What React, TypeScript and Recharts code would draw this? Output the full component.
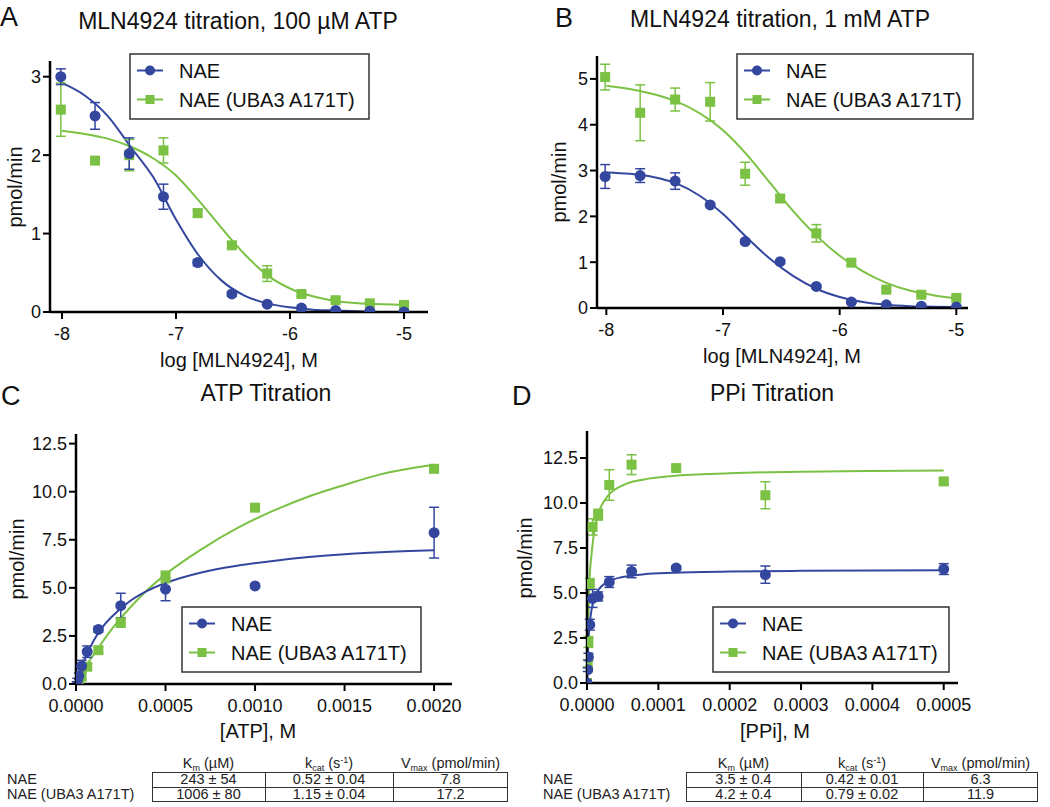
import React from "react"
import { ComposedChart, Line, Scatter, XAxis, YAxis, ErrorBar } from "recharts"

const BLUE = "#34479f"
const GREEN = "#7bc143"
const INK = "#111"
const FONT = '"Liberation Sans", Arial, Helvetica, sans-serif'

const seriesNames = ["NAE", "NAE (UBA3 A171T)"]

// MLN4924 doses, log M
const logDoses = [-8.01, -7.71, -7.41, -7.11, -6.81, -6.51, -6.2, -5.9, -5.6, -5.3, -5.0]
const logFitX = [-8.0, -7.8, -7.6, -7.4, -7.2, -7.0, -6.8, -6.6, -6.4, -6.2, -6.0, -5.8, -5.6, -5.4, -5.2, -5.0]

// A: 100 uM ATP
const aNae = [3.0, 2.5, 2.02, 1.47, 0.63, 0.23, 0.1, 0.05, 0.02, 0.01, 0.0]
const aNaeErr = [0.1, 0.17, 0.2, 0.16, 0.04, 0.03, 0.02, 0.01, 0, 0, 0]
const aMut = [2.58, 1.93, 2.0, 2.06, 1.26, 0.85, 0.49, 0.23, 0.15, 0.11, 0.09]
const aMutErr = [0.34, 0, 0.2, 0.16, 0.05, 0.04, 0.1, 0.03, 0.03, 0.02, 0.02]
const aNaeFit = [2.92, 2.76, 2.5, 2.11, 1.72, 1.18, 0.72, 0.4, 0.21, 0.11, 0.06, 0.03, 0.02, 0.01, 0.0, 0.0]
const aMutFit = [2.31, 2.27, 2.21, 2.11, 1.96, 1.74, 1.42, 1.07, 0.74, 0.47, 0.3, 0.2, 0.14, 0.11, 0.1, 0.09]

// B: 1 mM ATP
const bNae = [2.87, 2.89, 2.77, 2.25, 1.45, 1.01, 0.47, 0.13, 0.07, 0.04, 0.02]
const bNaeErr = [0.26, 0.15, 0.18, 0.03, 0.05, 0.04, 0.03, 0.02, 0, 0, 0]
const bMut = [5.04, 4.26, 4.55, 4.5, 2.93, 2.39, 1.63, 0.99, 0.4, 0.29, 0.22]
const bMutErr = [0.28, 0.61, 0.25, 0.42, 0.25, 0.07, 0.19, 0.05, 0.04, 0.03, 0.03]
const bNaeFit = [2.96, 2.93, 2.86, 2.72, 2.45, 2.05, 1.55, 1.08, 0.7, 0.42, 0.24, 0.13, 0.07, 0.04, 0.03, 0.02]
const bMutFit = [4.85, 4.78, 4.67, 4.51, 4.25, 3.88, 3.36, 2.74, 2.12, 1.58, 1.14, 0.8, 0.55, 0.38, 0.28, 0.21]

// C: ATP titration
const atpConc = [0.0000039, 0.0000078, 0.0000156, 0.00003125, 0.0000625, 0.000125, 0.00025, 0.0005, 0.001, 0.002]
const cNae = [0.07, 0.2, 0.42, 0.93, 1.68, 2.84, 4.07, 4.93, 5.1, 7.87]
const cNaeErr = [0.05, 0.1, 0.15, 0.3, 0.3, 0.15, 0.65, 0.6, 0.1, 1.32]
const cMut = [0.03, 0.07, 0.17, 0.38, 0.9, 1.76, 3.2, 5.57, 9.17, 11.19]
const cMutErr = [0.02, 0.05, 0.1, 0.15, 0.15, 0.15, 0.25, 0.3, 0.1, 0.15]
const atpFitX = [0, 0.00002, 0.00005, 0.0001, 0.00015, 0.0002, 0.0003, 0.0004, 0.0005, 0.0007, 0.0009, 0.0011, 0.0013, 0.0015, 0.0017, 0.002]
const cNaeFit = [0, 0.6, 1.33, 2.28, 2.98, 3.5, 4.3, 4.85, 5.25, 5.8, 6.15, 6.4, 6.6, 6.75, 6.85, 6.95]
const cMutFit = [0, 0.34, 0.84, 1.55, 2.22, 2.85, 3.95, 4.9, 5.7, 7.0, 8.1, 9.0, 9.75, 10.35, 10.9, 11.4]

// D: PPi titration
const ppiConc = [0, 0.00000098, 0.00000195, 0.0000039, 0.0000078, 0.0000156, 0.00003125, 0.0000625, 0.000125, 0.00025, 0.0005]
const dNae = [0, 0.74, 1.45, 3.24, 4.7, 4.81, 5.61, 6.2, 6.39, 6.02, 6.33]
const dNaeErr = [0, 0.1, 0.2, 0.3, 0.5, 0.25, 0.3, 0.35, 0.1, 0.48, 0.3]
const dMut = [0, 1.1, 2.28, 5.5, 8.67, 9.35, 11.0, 12.13, 11.94, 10.43, 11.2]
const dMutErr = [0, 0.2, 0.3, 0.3, 0.45, 0.3, 0.85, 0.55, 0.1, 0.75, 0.15]
const ppiFitX = [0, 0.000001, 0.000002, 0.000004, 0.000006, 0.00001, 0.000015, 0.00002, 0.00003, 0.00005, 0.00008, 0.00012, 0.0002, 0.0003, 0.0004, 0.0005]
const dNaeFit = [0, 1.4, 2.29, 3.36, 3.98, 4.67, 5.11, 5.36, 5.64, 5.89, 6.04, 6.12, 6.19, 6.23, 6.25, 6.26]
const dMutFit = [0, 2.29, 3.85, 6.1, 7.0, 8.38, 9.3, 9.83, 10.43, 10.98, 11.31, 11.5, 11.65, 11.74, 11.78, 11.8]

// kinetic tables
const tableHeads = ["Km", "kcat", "Vmax"]
const atpKm = ["243 ± 54", "1006 ± 80"]
const atpKcat = ["0.52 ± 0.04", "1.15 ± 0.04"]
const atpVmax = ["7.8", "17.2"]
const ppiKm = ["3.5 ± 0.4", "4.2 ± 0.4"]
const ppiKcat = ["0.42 ± 0.01", "0.79 ± 0.02"]
const ppiVmax = ["6.3", "11.9"]

const pts = (xs: number[], ys: number[], es: number[]) => xs.map((x, i) => ({ x, y: ys[i], err: es[i] }))
const fit = (xs: number[], ys: number[]) => xs.map((x, i) => ({ x, y: ys[i] }))

const circleShape = (p: any) => <circle cx={p.cx} cy={p.cy} r={5.5} fill={BLUE} />
const squareShape = (p: any) => <rect x={p.cx - 5} y={p.cy - 5} width={10} height={10} fill={GREEN} />

interface PanelProps {
  box: { left: number; top: number; width: number; height: number }
  xDomain: number[]
  xTicks: number[]
  xFmt: (v: number) => string
  yDomain: number[]
  yTicks: number[]
  yFmt: (v: number) => string
  nae: any[]
  mut: any[]
  naeFit: any[]
  mutFit: any[]
}

function Panel({ box, xDomain, xTicks, xFmt, yDomain, yTicks, yFmt, nae, mut, naeFit, mutFit }: PanelProps) {
  const yW = 70
  const xH = 40
  const mTop = 10
  const mRight = 20
  const tick = { fill: INK, fontSize: 18, fontFamily: FONT }
  return (
    <div style={{ position: "absolute", left: box.left - yW, top: box.top - mTop }}>
      <ComposedChart
        width={yW + box.width + mRight}
        height={mTop + box.height + xH}
        margin={{ top: mTop, right: mRight, left: 0, bottom: 0 }}
      >
        <XAxis
          type="number"
          dataKey="x"
          domain={xDomain}
          ticks={xTicks}
          tickFormatter={xFmt}
          allowDataOverflow
          interval={0}
          height={xH}
          axisLine={{ stroke: "#000", strokeWidth: 2.5 }}
          tickLine={{ stroke: "#000", strokeWidth: 2 }}
          tickSize={7}
          tickMargin={8}
          tick={tick}
        />
        <YAxis
          type="number"
          domain={yDomain}
          ticks={yTicks}
          tickFormatter={yFmt}
          allowDataOverflow
          interval={0}
          width={yW}
          axisLine={{ stroke: "#000", strokeWidth: 2.5 }}
          tickLine={{ stroke: "#000", strokeWidth: 2 }}
          tickSize={7}
          tickMargin={2}
          tick={tick}
        />
        <Line data={mutFit} dataKey="y" type="monotone" stroke={GREEN} strokeWidth={2} dot={false} isAnimationActive={false} />
        <Line data={naeFit} dataKey="y" type="monotone" stroke={BLUE} strokeWidth={2} dot={false} isAnimationActive={false} />
        <Scatter data={mut} dataKey="y" shape={squareShape} isAnimationActive={false}>
          <ErrorBar dataKey="err" direction="y" width={5} stroke={GREEN} strokeWidth={1.5} />
        </Scatter>
        <Scatter data={nae} dataKey="y" shape={circleShape} isAnimationActive={false}>
          <ErrorBar dataKey="err" direction="y" width={5} stroke={BLUE} strokeWidth={1.5} />
        </Scatter>
      </ComposedChart>
    </div>
  )
}

function LegendBox({ x, y, w }: { x: number; y: number; w: number }) {
  return (
    <g>
      <rect x={x} y={y} width={w} height={65} fill="#fff" stroke="#333" strokeWidth={1.5} />
      <line x1={x + 7} x2={x + 33} y1={y + 16.5} y2={y + 16.5} stroke={BLUE} strokeWidth={2} />
      <circle cx={x + 20} cy={y + 16.5} r={5} fill={BLUE} />
      <text x={x + 49} y={y + 24} fontSize={20}>{seriesNames[0]}</text>
      <line x1={x + 7} x2={x + 33} y1={y + 45.5} y2={y + 45.5} stroke={GREEN} strokeWidth={2} />
      <rect x={x + 15.5} y={y + 41} width={9} height={9} fill={GREEN} />
      <text x={x + 49} y={y + 53} fontSize={20}>{seriesNames[1]}</text>
    </g>
  )
}

function YLabel({ x, y }: { x: number; y: number }) {
  return (
    <text x={x} y={y} fontSize={20} textAnchor="middle" dominantBaseline="central" transform={`rotate(-90 ${x} ${y})`}>
      pmol/min
    </text>
  )
}

const subStyle = { fontSize: 9, position: "relative" as const, top: 3 }
const supStyle = { fontSize: 9, position: "relative" as const, top: -5 }

function headCell(h: string) {
  if (h === "Km") return <span>K<span style={subStyle}>m</span> (µM)</span>
  if (h === "kcat") return <span>k<span style={subStyle}>cat</span> (s<span style={supStyle}>-1</span>)</span>
  return <span>V<span style={subStyle}>max</span> (pmol/min)</span>
}

function KineticsTable({ labelX, cols, cells }: { labelX: number; cols: number[]; cells: string[][] }) {
  const top = 772
  const rowH = 15
  return (
    <div style={{ position: "absolute", left: 0, top: 0, fontFamily: FONT, fontSize: 14.5, color: "#222" }}>
      {seriesNames.map((n, r) => (
        <div key={n} style={{ position: "absolute", left: labelX, top: top + r * rowH, lineHeight: `${rowH}px`, whiteSpace: "nowrap" }}>
          {n}
        </div>
      ))}
      {tableHeads.map((h, c) => (
        <div
          key={h}
          style={{ position: "absolute", left: cols[c], width: cols[c + 1] - cols[c], top: top - 17, lineHeight: "16px", textAlign: "center", whiteSpace: "nowrap" }}
        >
          {headCell(h)}
        </div>
      ))}
      <div
        style={{ position: "absolute", left: cols[0], top, width: cols[3] - cols[0], height: rowH * 2, border: "1.5px solid #333", boxSizing: "border-box" }}
      />
      <div style={{ position: "absolute", left: cols[0], top: top + rowH, width: cols[3] - cols[0], borderTop: "1.5px solid #333" }} />
      {[cols[1], cols[2]].map((cx) => (
        <div key={cx} style={{ position: "absolute", left: cx, top, height: rowH * 2, borderLeft: "1.5px solid #333" }} />
      ))}
      {cells.map((col, c) =>
        col.map((v, r) => (
          <div
            key={`${c}-${r}`}
            style={{ position: "absolute", left: cols[c], width: cols[c + 1] - cols[c], top: top + r * rowH, lineHeight: `${rowH}px`, textAlign: "center", whiteSpace: "nowrap" }}
          >
            {v}
          </div>
        ))
      )}
    </div>
  )
}

const logFmt = (v: number) => String(v)
const intFmt = (v: number) => String(v)
const f1 = (v: number) => v.toFixed(1)
const f4 = (v: number) => v.toFixed(4)

export default function App() {
  return (
    <div style={{ position: "absolute", left: 0, top: 0, width: 1050, height: 807, background: "#fff", fontFamily: FONT, overflow: "hidden" }}>
      <Panel
        box={{ left: 50, top: 61, width: 378, height: 251 }}
        xDomain={[-8.105, -4.79]}
        xTicks={[-8, -7, -6, -5]}
        xFmt={logFmt}
        yDomain={[0, 3.2]}
        yTicks={[0, 1, 2, 3]}
        yFmt={intFmt}
        nae={pts(logDoses, aNae, aNaeErr)}
        mut={pts(logDoses, aMut, aMutErr)}
        naeFit={fit(logFitX, aNaeFit)}
        mutFit={fit(logFitX, aMutFit)}
      />
      <Panel
        box={{ left: 597, top: 56, width: 371, height: 252 }}
        xDomain={[-8.08, -4.9]}
        xTicks={[-8, -7, -6, -5]}
        xFmt={logFmt}
        yDomain={[0, 5.5]}
        yTicks={[0, 1, 2, 3, 4, 5]}
        yFmt={intFmt}
        nae={pts(logDoses, bNae, bNaeErr)}
        mut={pts(logDoses, bMut, bMutErr)}
        naeFit={fit(logFitX, bNaeFit)}
        mutFit={fit(logFitX, bMutFit)}
      />
      <Panel
        box={{ left: 76, top: 434, width: 376, height: 250 }}
        xDomain={[0, 0.0021]}
        xTicks={[0, 0.0005, 0.001, 0.0015, 0.002]}
        xFmt={f4}
        yDomain={[0, 13]}
        yTicks={[0, 2.5, 5, 7.5, 10, 12.5]}
        yFmt={f1}
        nae={pts(atpConc, cNae, cNaeErr)}
        mut={pts(atpConc, cMut, cMutErr)}
        naeFit={fit(atpFitX, cNaeFit)}
        mutFit={fit(atpFitX, cMutFit)}
      />
      <Panel
        box={{ left: 587, top: 431, width: 371, height: 252 }}
        xDomain={[0, 0.00052]}
        xTicks={[0, 0.0001, 0.0002, 0.0003, 0.0004, 0.0005]}
        xFmt={f4}
        yDomain={[0, 14]}
        yTicks={[0, 2.5, 5, 7.5, 10, 12.5]}
        yFmt={f1}
        nae={pts(ppiConc, dNae, dNaeErr)}
        mut={pts(ppiConc, dMut, dMutErr)}
        naeFit={fit(ppiFitX, dNaeFit)}
        mutFit={fit(ppiFitX, dMutFit)}
      />

      <svg width={1050} height={807} style={{ position: "absolute", left: 0, top: 0, pointerEvents: "none" }} fontFamily={FONT} fill={INK}>
        <text x={0} y={26} fontSize={27}>A</text>
        <text x={238} y={29} fontSize={23} textAnchor="middle">MLN4924 titration, 100 µM  ATP</text>
        <YLabel x={15} y={187} />
        <text x={239} y={367} fontSize={20} textAnchor="middle">log [MLN4924], M</text>
        <LegendBox x={130} y={54} w={239} />

        <text x={555} y={27} fontSize={27}>B</text>
        <text x={780} y={27} fontSize={23} textAnchor="middle">MLN4924 titration, 1 mM ATP</text>
        <YLabel x={559} y={182} />
        <text x={782} y={363} fontSize={20} textAnchor="middle">log [MLN4924], M</text>
        <LegendBox x={737} y={54} w={236} />

        <text x={1} y={405} fontSize={27}>C</text>
        <text x={266} y={401} fontSize={23} textAnchor="middle">ATP Titration</text>
        <YLabel x={17} y={559} />
        <text x={258} y={738} fontSize={20} textAnchor="middle">[ATP], M</text>
        <LegendBox x={182} y={607} w={239} />

        <text x={512} y={405} fontSize={27}>D</text>
        <text x={772} y={401} fontSize={23} textAnchor="middle">PPi Titration</text>
        <YLabel x={525} y={558} />
        <text x={775} y={738} fontSize={20} textAnchor="middle">[PPi], M</text>
        <LegendBox x={713} y={607} w={236} />
      </svg>

      <KineticsTable labelX={7} cols={[152, 265, 393, 508]} cells={[atpKm, atpKcat, atpVmax]} />
      <KineticsTable labelX={543} cols={[686, 801, 923, 1038]} cells={[ppiKm, ppiKcat, ppiVmax]} />
    </div>
  )
}
